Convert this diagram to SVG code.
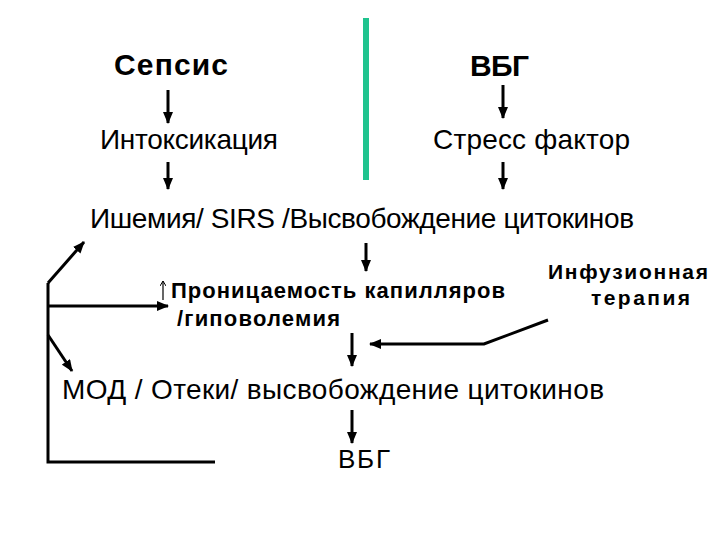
<svg xmlns="http://www.w3.org/2000/svg" width="720" height="540" viewBox="0 0 720 540">
<style>
text{font-family:"Liberation Sans",Arial,sans-serif;fill:#000}
.b{font-weight:bold}
.c{stroke:#000;stroke-width:3;fill:none}
.t{stroke:#000;stroke-width:1.2;fill:none}
</style>
<defs>
<marker id="ah" markerUnits="userSpaceOnUse" markerWidth="12" markerHeight="10" refX="11" refY="5" orient="auto">
<path d="M0,0 L12,5 L0,10 Z" fill="#000"/>
</marker>
<marker id="ahs" markerUnits="userSpaceOnUse" markerWidth="6" markerHeight="6" refX="5" refY="3" orient="auto">
<path d="M0,0 L5,3 L0,6" fill="none" stroke="#000" stroke-width="1"/>
</marker>
</defs>
<rect width="720" height="540" fill="#fff"/>
<line x1="366" y1="18" x2="366" y2="180" stroke="#1fc38e" stroke-width="6"/>
<g id="sepsis"><text class="b" x="114" y="75" font-size="30" textLength="114">Сепсис</text></g>
<g id="vbg1"><text class="b" x="470" y="76" font-size="30" textLength="59">ВБГ</text></g>
<g id="intox"><text x="100" y="149" font-size="28" textLength="178">Интоксикация</text></g>
<g id="stress"><text x="433" y="149" font-size="28" textLength="197">Стресс фактор</text></g>
<g id="ishemia"><text x="90" y="228" font-size="28" textLength="544">Ишемия/ SIRS /Высвобождение цитокинов</text></g>
<g id="pronic"><text class="b" x="171" y="298" font-size="22" textLength="334">Проницаемость капилляров</text>
<line class="t" x1="163" y1="300" x2="163" y2="281" marker-end="url(#ahs)"/>
<text class="b" x="177" y="326" font-size="22" textLength="163">/гиповолемия</text></g>
<g id="infuz"><text class="b" x="548" y="279" font-size="21" textLength="160">Инфузионная</text>
<text class="b" x="591" y="305" font-size="21" textLength="99">терапия</text></g>
<g id="mod"><text x="62" y="399" font-size="28" textLength="542">МОД / Отеки/ высвобождение цитокинов</text></g>
<g id="vbg2"><text x="338" y="468" font-size="26" textLength="52">ВБГ</text></g>
<g id="connectors">
<line class="c" x1="168" y1="90" x2="168" y2="123" marker-end="url(#ah)"/>
<line class="c" x1="503" y1="85" x2="503" y2="118" marker-end="url(#ah)"/>
<line class="c" x1="168" y1="162" x2="168" y2="189" marker-end="url(#ah)"/>
<line class="c" x1="503" y1="162" x2="503" y2="189" marker-end="url(#ah)"/>
<line class="c" x1="366" y1="243" x2="366" y2="271" marker-end="url(#ah)"/>
<line class="c" x1="352" y1="333" x2="352" y2="366" marker-end="url(#ah)"/>
<line class="c" x1="352" y1="410" x2="352" y2="443" marker-end="url(#ah)"/>
<polyline class="c" points="548,320 484,344 370,344" marker-end="url(#ah)"/>
<polyline class="c" points="215,462 48,462 48,283"/>
<line class="c" x1="48" y1="283" x2="84" y2="242" marker-end="url(#ah)"/>
<line class="c" x1="48" y1="306" x2="168" y2="306" marker-end="url(#ah)"/>
<line class="c" x1="48" y1="335" x2="72" y2="371" marker-end="url(#ah)"/>
</g>
</svg>
